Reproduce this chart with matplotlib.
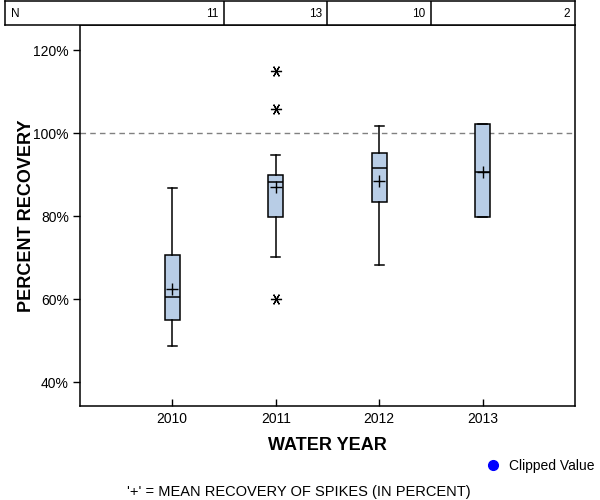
import numpy as np
import matplotlib
matplotlib.use("Agg")
import matplotlib.pyplot as plt
from matplotlib.lines import Line2D

plt.rcParams['font.family'] = ['Liberation Sans', 'DejaVu Sans']

# valores
years = [2010, 2011, 2012, 2013]
n_obs = [11, 13, 10, 2]
whislo = [48.8, 70.1, 68.3, 79.8]
q1 = [55.0, 79.8, 83.4, 79.8]
med = [60.5, 88.2, 91.6, 90.8]
q3 = [70.8, 89.9, 95.2, 102.2]
whishi = [86.8, 94.7, 101.8, 102.2]
means = [62.5, 87.0, 88.5, 90.8]
fliers = [[], [60.2, 105.9, 115.1], [], []]

stats = []
for i in range(len(years)):
    stats.append(dict(whislo=whislo[i], q1=q1[i], med=med[i], q3=q3[i],
                      whishi=whishi[i], mean=means[i], fliers=fliers[i]))

fig = plt.figure(figsize=(6, 5), dpi=100)
ax = fig.add_axes([80/600, 1-406/500, 495/600, 381/500])

pos = np.arange(len(years))
ax.bxp(stats, positions=pos, widths=0.145, capwidths=0.087, showmeans=True,
       patch_artist=True,
       boxprops=dict(facecolor='#B8CDE6', edgecolor='black', linewidth=1.1),
       medianprops=dict(color='black', linewidth=1.1),
       whiskerprops=dict(color='black', linewidth=1.1),
       capprops=dict(color='black', linewidth=1.1),
       meanprops=dict(marker='+', markeredgecolor='black', markersize=9, markeredgewidth=1.0),
       flierprops=dict(marker=(6, 2, 90), markeredgecolor='black', markersize=8, markeredgewidth=0.9))

ax.axhline(100, color='#808080', linestyle=(0, (4, 3)), linewidth=1.0, zorder=0)

xmin, xmax = -0.89, 3.89
ax.set_xlim(xmin, xmax)
ax.set_ylim(34.3, 126.1)
ax.set_yticks([40, 60, 80, 100, 120])
ax.set_yticklabels([f"{v}%" for v in [40, 60, 80, 100, 120]])
ax.set_xticks(pos)
ax.set_xticklabels([str(y) for y in years])
ax.tick_params(axis='y', direction='out', length=5, width=1, labelsize=10, pad=3)
ax.tick_params(axis='x', direction='in', length=5, width=1, labelsize=10, pad=4)
for s in ax.spines.values():
    s.set_linewidth(1.1)

ax.set_xlabel("WATER YEAR", fontsize=13, fontweight='bold', labelpad=8)
ax.set_ylabel("PERCENT RECOVERY", fontsize=13, fontweight='bold', labelpad=-1)

# tabla N arriba
tab = fig.add_axes([5/600, 1-25/500, 570/600, 24/500])
tab.set_xlim(xmin - 75/103.56, xmax)
tab.set_ylim(0, 1)
tab.set_xticks([])
tab.set_yticks([])
for s in tab.spines.values():
    s.set_linewidth(1.1)
for b in pos[:-1] + 0.5:
    tab.axvline(b, color='black', linewidth=1.1)
tab.text(0.01, 0.45, "N", transform=tab.transAxes, fontsize=8.5, va='center', ha='left')
for i, n in enumerate(n_obs):
    right = i + 0.5 if i < len(n_obs) - 1 else xmax
    tab.annotate(str(n), xy=(right, 0.45), xytext=(-4, 0), textcoords='offset points',
                 fontsize=8.5, va='center', ha='right')

fig.legend(handles=[Line2D([], [], marker='o', color='blue', linestyle='', markersize=7)],
           labels=['Clipped Value'], loc='center left',
           bbox_to_anchor=(474/600, 1-466/500), frameon=False, fontsize=10,
           handletextpad=0.1, borderaxespad=0)

fig.text(299/600, 1-492/500, "'+' = MEAN RECOVERY OF SPIKES (IN PERCENT)",
         ha='center', va='center', fontsize=10.5)

fig.savefig("out.png", dpi=100)
